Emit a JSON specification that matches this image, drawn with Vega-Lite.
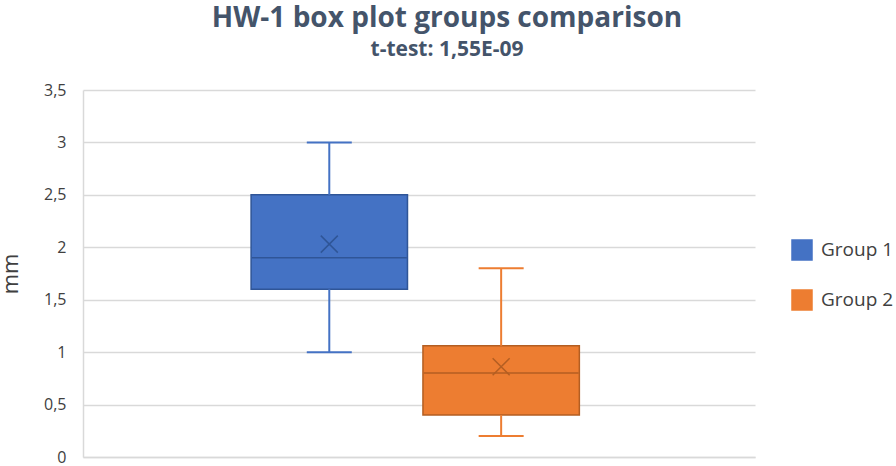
{
  "$schema": "https://vega.github.io/schema/vega-lite/v6.json",
  "width": 672,
  "height": 367,
  "autosize": {"type": "none"},
  "padding": {"left": 83, "top": 90, "right": 141, "bottom": 9},
  "background": "white",
  "view": {"stroke": null},
  "title": {
    "text": "HW-1 box plot groups comparison",
    "subtitle": "t-test: 1,55E-09",
    "anchor": "middle",
    "dx": 28,
    "offset": 22,
    "font": "Open Sans",
    "fontSize": 28,
    "fontWeight": "bold",
    "color": "#44546A",
    "subtitleFont": "Open Sans",
    "subtitleFontSize": 21,
    "subtitleFontWeight": "bold",
    "subtitleColor": "#44546A",
    "subtitlePadding": 6
  },
  "data": {
    "values": [
      {"group": "Group 1", "min": 1.0, "q1": 1.6, "median": 1.9, "q3": 2.5, "max": 3.0, "mean": 2.03},
      {"group": "Group 2", "min": 0.2, "q1": 0.4, "median": 0.8, "q3": 1.06, "max": 1.8, "mean": 0.86}
    ]
  },
  "encoding": {
    "x": {
      "field": "group",
      "type": "nominal",
      "scale": {"paddingInner": 0.09, "paddingOuter": 1.0, "align": 0.489},
      "axis": {"labels": false, "ticks": false, "title": null, "domain": true, "domainColor": "#D9D9D9", "domainWidth": 1.5, "grid": false}
    }
  },
  "layer": [
    {
      "mark": {"type": "bar", "strokeWidth": 1.5, "opacity": 1},
      "encoding": {
        "y": {
          "field": "q1",
          "type": "quantitative",
          "scale": {"domain": [0, 3.5], "nice": false},
          "axis": {
            "values": [0, 0.5, 1, 1.5, 2, 2.5, 3, 3.5],
            "labelExpr": "replace(toString(datum.value), '.', ',')",
            "title": "mm",
            "titleFont": "Open Sans",
            "titleFontSize": 22,
            "titleFontWeight": "normal",
            "titleColor": "#404040",
            "titleX": -66,
            "titleBaseline": "alphabetic",
            "labelFont": "Open Sans",
            "labelFontSize": 16,
            "labelColor": "#404040",
            "labelPadding": 17,
            "ticks": false,
            "domain": true,
            "domainColor": "#D9D9D9",
            "domainWidth": 1.5,
            "grid": true,
            "gridColor": "#D9D9D9",
            "gridWidth": 1.5
          }
        },
        "y2": {"field": "q3"},
        "color": {
          "field": "group",
          "type": "nominal",
          "scale": {"domain": ["Group 1", "Group 2"], "range": ["#4472C4", "#ED7D31"]},
          "legend": {
            "title": null,
            "orient": "none",
            "legendX": 708,
            "legendY": 149,
            "symbolType": "square",
            "symbolSize": 400,
            "symbolOpacity": 1,
            "symbolStrokeWidth": 1.5,
            "labelFont": "Open Sans",
            "labelFontSize": 19,
            "labelColor": "#404040",
            "labelOffset": 8,
            "rowPadding": 24
          }
        },
        "stroke": {
          "field": "group",
          "type": "nominal",
          "scale": {"domain": ["Group 1", "Group 2"], "range": ["#2F5597", "#B35E22"]},
          "legend": null
        }
      }
    },
    {
      "mark": {"type": "rule", "strokeWidth": 2},
      "encoding": {
        "y": {"field": "min", "type": "quantitative"},
        "y2": {"field": "q1"},
        "color": {"field": "group", "type": "nominal"}
      }
    },
    {
      "mark": {"type": "rule", "strokeWidth": 2},
      "encoding": {
        "y": {"field": "q3", "type": "quantitative"},
        "y2": {"field": "max"},
        "color": {"field": "group", "type": "nominal"}
      }
    },
    {
      "mark": {"type": "tick", "size": 45, "thickness": 2, "opacity": 1},
      "encoding": {
        "y": {"field": "min", "type": "quantitative"},
        "color": {"field": "group", "type": "nominal"}
      }
    },
    {
      "mark": {"type": "tick", "size": 45, "thickness": 2, "opacity": 1},
      "encoding": {
        "y": {"field": "max", "type": "quantitative"},
        "color": {"field": "group", "type": "nominal"}
      }
    },
    {
      "mark": {"type": "tick", "size": 155, "thickness": 1.5, "opacity": 1},
      "encoding": {
        "y": {"field": "median", "type": "quantitative"},
        "fill": {
          "field": "group",
          "type": "nominal",
          "scale": {"domain": ["Group 1", "Group 2"], "range": ["#2F5597", "#B35E22"]},
          "legend": null
        }
      }
    },
    {
      "mark": {"type": "point", "shape": "M-1,-1L1,1M-1,1L1,-1", "size": 289, "filled": false, "strokeWidth": 1.5, "opacity": 1},
      "encoding": {
        "y": {"field": "mean", "type": "quantitative"},
        "stroke": {"field": "group", "type": "nominal", "legend": null}
      }
    }
  ]
}
